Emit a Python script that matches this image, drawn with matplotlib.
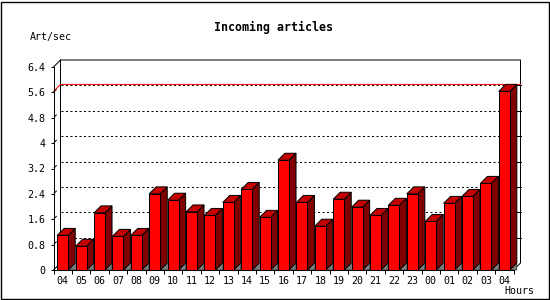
import matplotlib
matplotlib.use('Agg')
import matplotlib.pyplot as plt
import numpy as np
from matplotlib.patches import Polygon, Rectangle

# data (articles/sec per hour)
hours = ['04', '05', '06', '07', '08', '09', '10', '11', '12', '13', '14', '15', '16',
         '17', '18', '19', '20', '21', '22', '23', '00', '01', '02', '03', '04']
rates = [1.09, 0.75, 1.80, 1.06, 1.09, 2.40, 2.20, 1.83, 1.72, 2.13, 2.54, 1.66, 3.46,
         2.13, 1.38, 2.23, 1.98, 1.72, 2.04, 2.40, 1.53, 2.10, 2.32, 2.73, 5.63]
y_ticks = [0, 0.8, 1.6, 2.4, 3.2, 4.0, 4.8, 5.6, 6.4]
y_tick_labels = ['0', '0.8', '1.6', '2.4', '3.2', '4', '4.8', '5.6', '6.4']

plt.rcParams['font.family'] = ['DejaVu Sans Mono']

W, H = 550, 300
LW = 0.72  # one pixel

fig = plt.figure(figsize=(W / 100, H / 100), dpi=100)
fig.patch.set_facecolor('white')

# front face of the plot area, in pixels
left, right, top, bottom = 53.5, 513.5, 67, 270
ax = fig.add_axes([left / W, 1 - bottom / H, (right - left) / W, (bottom - top) / H])

n = len(hours)
ymax = y_ticks[-1]
ax.set_xlim(-0.5, n - 0.5)
ax.set_ylim(0, ymax)

# 3d depth of 7 px, expressed in data units
depth = 7
dx = depth / ((right - left) / n)
dy = depth / ((bottom - top) / ymax)
x0, x1 = -0.5, n - 0.5

# back plane outline
ax.plot([x0 + dx, x0 + dx, x1 + dx, x1 + dx, x1], [dy, ymax + dy, ymax + dy, dy, 0],
        color='black', lw=LW, clip_on=False, zorder=1)
ax.plot([x0, x0 + dx], [ymax, ymax + dy], color='black', lw=LW, clip_on=False, zorder=1)
ax.plot([x0, x0 + dx], [0, dy], color='black', lw=LW, clip_on=False, zorder=1)

# dotted grid on the back plane, small ticks on the right edge, stubs at the axis
for t in y_ticks[1:-1]:
    ax.plot([x0 + dx, x1 + dx], [t + dy, t + dy], color='black', lw=LW,
            linestyle=(0, (2, 2.5)), clip_on=False, zorder=1)
    ax.plot([x1 + dx * 0.6, x1 + dx], [t + dy, t + dy], color='black', lw=LW,
            clip_on=False, zorder=1)
    ax.plot([x0 + dx * 0.1, x0 + dx * 0.4], [t + dy * 0.1, t + dy * 0.4], color='black',
            lw=LW, clip_on=False, zorder=1)

# red line at the maximum
peak = max(rates)
ax.plot([x0, x0 + dx, x1 + dx], [peak, peak + dy, peak + dy], color='red', lw=LW,
        clip_on=False, zorder=2)

# 3d bars
bw = 0.3
for i, v in enumerate(rates):
    front = Rectangle((i - bw, 0), 2 * bw, v, fc='#ff0000', ec='black', lw=LW, zorder=3)
    top_face = Polygon([(i - bw, v), (i - bw + dx, v + dy), (i + bw + dx, v + dy), (i + bw, v)],
                       closed=True, fc='#c40000', ec='black', lw=LW, zorder=3)
    side = Polygon([(i + bw, 0), (i + bw, v), (i + bw + dx, v + dy), (i + bw + dx, dy)],
                   closed=True, fc='#800000', ec='black', lw=LW, zorder=3)
    floor = Polygon([(i + bw, 0), (i + bw + dx, dy), (i + bw + dx, 0)],
                    closed=True, fc='#808080', ec='black', lw=LW * 0.5, zorder=3)
    for p in (floor, side, top_face, front):
        p.set_clip_on(False)
        ax.add_patch(p)

# axes
for s in ('top', 'right'):
    ax.spines[s].set_visible(False)
for s in ('left', 'bottom'):
    ax.spines[s].set_linewidth(LW)
    ax.spines[s].set_zorder(4)

ax.set_yticks(y_ticks, labels=y_tick_labels)
ax.tick_params(axis='y', direction='out', length=2.2, width=LW, pad=3.5, labelsize=7.2)

ax.set_xticks(np.arange(n + 1) - 0.5)
ax.set_xticklabels([])
ax.set_xticks(np.arange(n), labels=hours, minor=True)
ax.tick_params(axis='x', which='major', direction='out', length=2.8, width=LW)
ax.tick_params(axis='x', which='minor', length=0, pad=4.3, labelsize=7.2)

# texts
fig.text(274 / W, 1 - 27 / H, 'Incoming articles', ha='center', va='center',
         fontsize=8.4, fontweight='bold')
fig.text(29.5 / W, 1 - 36.7 / H, 'Art/sec', ha='left', va='center', fontsize=7.2)
fig.text(534 / W, 1 - 291.5 / H, 'Hours', ha='right', va='center', fontsize=7.2)

# outer frame
fig.patches.append(Rectangle((0.5 / W, 1.5 / H), 548 / W, 297 / H, transform=fig.transFigure,
                             fill=False, ec='black', lw=1.0))

fig.savefig('out.png', dpi=100)
